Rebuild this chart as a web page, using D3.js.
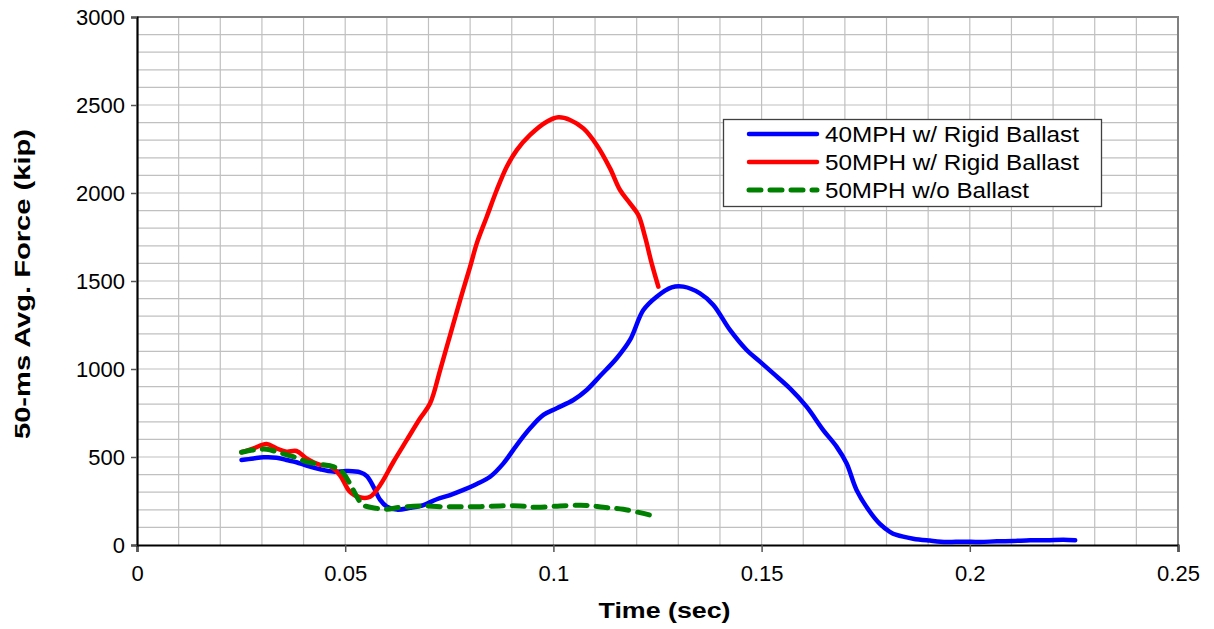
<!DOCTYPE html>
<html>
<head>
<meta charset="utf-8">
<script src="https://cdn.jsdelivr.net/npm/d3@7"></script>
<style>
  html, body { margin: 0; padding: 0; background: #fff; }
  svg { display: block; font-family: "Liberation Sans", Arial, sans-serif; }
</style>
</head>
<body>
<svg id="chart" width="1214" height="629"></svg>
<script>
// Time (sec) samples and 50-ms averaged force (kip) for each test
const t40Rigid = [0.0251,0.028,0.0304,0.0335,0.0359,0.0383,0.0407,0.044,0.0471,0.0504,0.0536,0.0552,0.0567,0.0584,0.060,0.0624,0.0656,0.0688,0.072,0.0752,0.0784,0.0816,0.0848,0.088,0.0912,0.0944,0.0976,0.1008,0.1048,0.108,0.1112,0.1152,0.1184,0.1216,0.1248,0.1284,0.1312,0.1352,0.1384,0.1424,0.1464,0.1496,0.1528,0.1568,0.1608,0.1648,0.168,0.1704,0.1728,0.176,0.1784,0.1808,0.1824,0.1864,0.1904,0.1944,0.1984,0.2024,0.2065,0.2104,0.2145,0.2185,0.2225,0.2253];
const f40Rigid = [483,492,498,496,483,470,451,430,417,420,413,392,335,256,218,201,211,227,260,284,313,347,388,464,568,663,739,777,824,881,960,1061,1165,1335,1411,1464,1468,1430,1364,1222,1108,1042,975,890,786,653,559,464,313,189,120,75,57,36,25,17,19,17,21,23,27,27,30,27];

const t50Rigid = [0.0251,0.028,0.0311,0.0335,0.0359,0.0383,0.0407,0.044,0.0463,0.0487,0.0511,0.0535,0.056,0.0584,0.0616,0.0648,0.068,0.0704,0.0728,0.0752,0.0776,0.08,0.0816,0.084,0.0864,0.0888,0.0912,0.0944,0.0984,0.1012,0.104,0.1072,0.1104,0.1136,0.116,0.1184,0.1204,0.122,0.1236,0.1252];
const f50Rigid = [527,549,574,549,530,534,492,455,449,398,303,271,274,341,473,597,720,805,994,1193,1392,1581,1714,1865,2017,2149,2244,2330,2405,2430,2415,2367,2273,2140,2017,1941,1875,1752,1600,1468];

const t50NoBallast = [0.0251,0.028,0.0311,0.0343,0.0375,0.0407,0.044,0.0471,0.0492,0.0511,0.0528,0.0543,0.0576,0.06,0.0632,0.068,0.0728,0.0776,0.0824,0.0872,0.092,0.096,0.1016,0.108,0.112,0.1168,0.1232];
const f50NoBallast = [527,540,544,524,502,473,458,445,417,350,274,227,208,203,214,222,218,218,218,222,222,214,222,225,214,203,170];

const seriesNames = ["40MPH w/ Rigid Ballast", "50MPH w/ Rigid Ballast", "50MPH w/o Ballast"];

const xTicks = [0, 0.05, 0.1, 0.15, 0.2, 0.25];
const xTickLabels = ["0", "0.05", "0.1", "0.15", "0.2", "0.25"];
const yTicks = [0, 500, 1000, 1500, 2000, 2500, 3000];
const yTickLabels = ["0", "500", "1000", "1500", "2000", "2500", "3000"];

const xTitle = "Time (sec)";
const yTitle = "50-ms Avg. Force (kip)";

// ---- layout ----
const plot = { left: 137, right: 1178, top: 17, bottom: 545 };
const svg = d3.select("#chart");

const x = d3.scaleLinear().domain([0, 0.25]).range([plot.left, plot.right]);
const y = d3.scaleLinear().domain([0, 3000]).range([plot.bottom, plot.top]);

// minor grid: every 0.01 s and every 100 kip
const grid = svg.append("g").attr("stroke", "#c0c0c0").attr("stroke-width", 1.2);
grid.selectAll("line.gx").data(d3.range(1, 25).map(i => i * 0.01)).join("line")
  .attr("x1", d => x(d)).attr("x2", d => x(d))
  .attr("y1", plot.top).attr("y2", plot.bottom);
grid.selectAll("line.gy").data(d3.range(1, 30).map(i => i * 100)).join("line")
  .attr("x1", plot.left).attr("x2", plot.right)
  .attr("y1", d => y(d)).attr("y2", d => y(d));

// top and right frame
svg.append("path")
  .attr("d", `M${plot.left},${plot.top}H${plot.right}V${plot.bottom}`)
  .attr("fill", "none").attr("stroke", "#808080").attr("stroke-width", 2);

// axes
const xAxis = d3.axisBottom(x).tickValues(xTicks)
  .tickFormat((d, i) => xTickLabels[i]).tickSize(7).tickPadding(13);
const yAxis = d3.axisLeft(y).tickValues(yTicks)
  .tickFormat((d, i) => yTickLabels[i]).tickSize(6).tickPadding(6);

const gx = svg.append("g").attr("transform", `translate(0,${plot.bottom})`).call(xAxis);
const gy = svg.append("g").attr("transform", `translate(${plot.left},0)`).call(yAxis);
[gx, gy].forEach(g => {
  g.select(".domain").attr("stroke", "#000").attr("stroke-width", 2.2);
  g.selectAll(".tick line").attr("stroke", "#555").attr("stroke-width", 1.5);
  g.selectAll(".tick text").attr("font-size", 22).attr("fill", "#000")
    .attr("font-family", "Liberation Sans, Arial, sans-serif");
});

// axis titles
svg.append("text").attr("x", (plot.left + plot.right) / 2 + 7).attr("y", 618)
  .attr("text-anchor", "middle").attr("font-size", 22).attr("font-weight", "bold")
  .attr("textLength", 132).attr("lengthAdjust", "spacingAndGlyphs")
  .text(xTitle);
svg.append("text")
  .attr("transform", `translate(30,284) rotate(-90)`)
  .attr("text-anchor", "middle").attr("font-size", 22).attr("font-weight", "bold")
  .attr("textLength", 310).attr("lengthAdjust", "spacingAndGlyphs")
  .text(yTitle);

// data lines
const series = [
  { name: seriesNames[0], t: t40Rigid, f: f40Rigid, color: "#0000ff", dash: null, width: 4.5, len: 254 },
  { name: seriesNames[1], t: t50Rigid, f: f50Rigid, color: "#ff0000", dash: null, width: 4.5, len: 254 },
  { name: seriesNames[2], t: t50NoBallast, f: f50NoBallast, color: "#008000", dash: "12,9", width: 5, len: 204 }
];

const line = d3.line()
  .x(d => x(d[0])).y(d => y(d[1]))
  .curve(d3.curveCatmullRom.alpha(0.5));

svg.append("g").selectAll("path").data(series).join("path")
  .attr("d", s => line(s.t.map((tv, i) => [tv, s.f[i]])))
  .attr("fill", "none")
  .attr("stroke", s => s.color)
  .attr("stroke-width", s => s.width)
  .attr("stroke-linecap", "round")
  .attr("stroke-linejoin", "round")
  .attr("stroke-dasharray", s => s.dash);

// legend
const leg = svg.append("g");
leg.append("rect").attr("x", 723.5).attr("y", 119.5).attr("width", 378).attr("height", 87)
  .attr("fill", "#fff").attr("stroke", "#404040").attr("stroke-width", 1.3);
const rows = leg.selectAll("g.row").data(series).join("g")
  .attr("transform", (d, i) => `translate(0,${134 + i * 28})`);
rows.append("line").attr("x1", 749).attr("x2", 817).attr("y1", 0).attr("y2", 0)
  .attr("stroke", d => d.color).attr("stroke-width", d => d.width)
  .attr("stroke-linecap", "round")
  .attr("stroke-dasharray", d => d.dash);
rows.append("text").attr("x", 825).attr("y", 0).attr("dy", "0.36em")
  .attr("font-size", 22).attr("fill", "#000")
  .attr("textLength", d => d.len).attr("lengthAdjust", "spacingAndGlyphs")
  .text(d => d.name);
</script>
</body>
</html>
